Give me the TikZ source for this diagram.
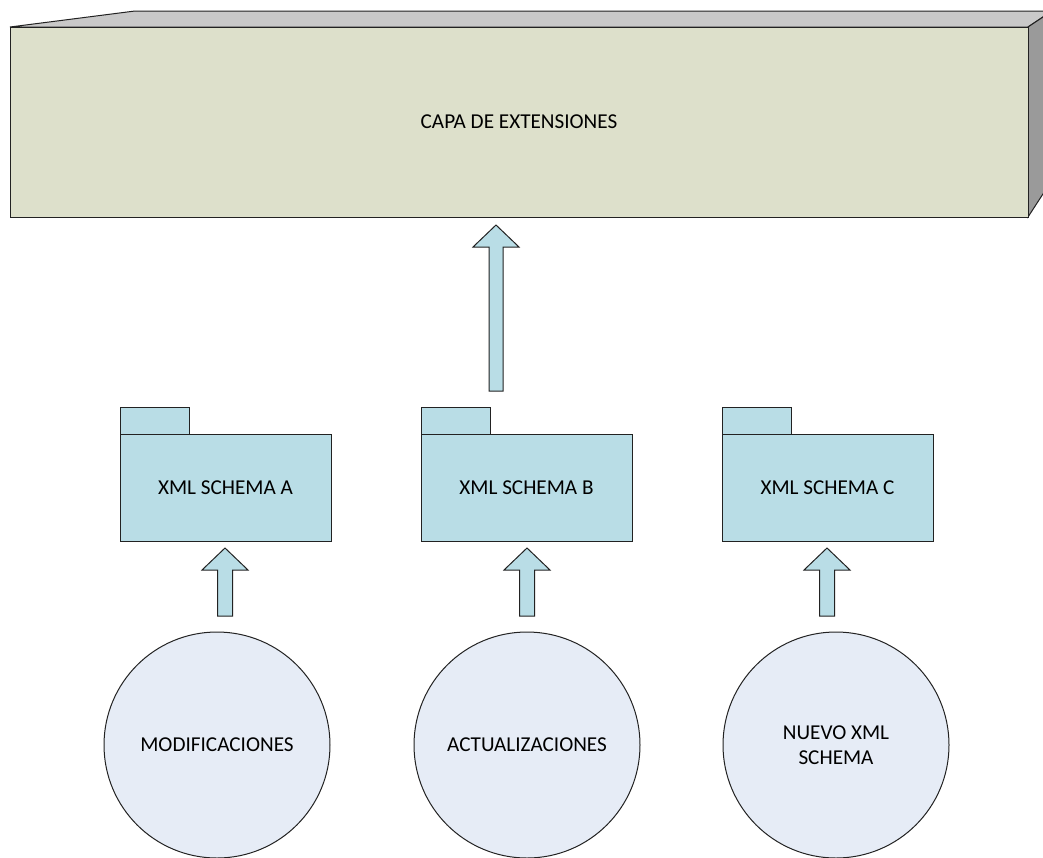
\documentclass[tikz,border=0pt]{standalone}
\usepackage{fontspec}
\setmainfont{Carlito}
\usetikzlibrary{calc}
\definecolor{boxfront}{HTML}{DDE0CB}
\definecolor{boxtop}{HTML}{C9C9C9}
\definecolor{boxside}{HTML}{9A9A9A}
\definecolor{folderfill}{HTML}{B9DDE6}
\definecolor{circfill}{HTML}{E6ECF6}
\definecolor{edge}{HTML}{222222}
\tikzset{
  every node/.style={font=\fontsize{21.2}{25.5}\selectfont},
  face/.style={draw=edge, line width=1pt, line join=miter},
  folderbox/.style={draw=edge, fill=folderfill, line width=1pt, rectangle, inner sep=0pt},
  circnode/.style={draw=edge, fill=circfill, line width=1pt, circle, minimum size=226pt, inner sep=0pt, align=center},
  fatarrow/.style={draw=edge, fill=folderfill, line width=1pt, line join=miter},
}
\begin{document}
\begin{tikzpicture}[x=1pt, y=-1pt]
\useasboundingbox (0,0) rectangle (1043,857);
\clip (0,0) rectangle (1043,857);
% top 3D box
\draw[face, fill=boxtop] (10,27) -- (135,11) -- (1052,11) -- (1028,27) -- cycle;
\draw[face, fill=boxside] (1028,27) -- (1052,11) -- (1052,180) -- (1028,217) -- cycle;
\node[face, fill=boxfront, rectangle, inner sep=0pt, minimum width=1018pt, minimum height=190pt] (ext) at (519,122) {CAPA DE EXTENSIONES};

% folders
\foreach \n/\x/\t in {A/120/XML SCHEMA A, B/421/XML SCHEMA B, C/722/XML SCHEMA C}{
  \draw[folderbox] (\x,407) rectangle (\x+69,434);
  \node[folderbox, minimum width=211pt, minimum height=107pt] (f\n) at (\x+105.5,487.5) {\t};
}

% circles
\node[circnode] (cA) at (217,745) {MODIFICACIONES};
\node[circnode] (cB) at (527,745) {ACTUALIZACIONES};
\node[circnode] (cC) at (836,745) {NUEVO XML\\SCHEMA};

% arrow end points
\coordinate (bigtip) at (496,225);
\coordinate (bigbot) at (496,391);
\coordinate (tA) at (225,548); \coordinate (bA) at (225,616);
\coordinate (tB) at (527,548); \coordinate (bB) at (527,616);
\coordinate (tC) at (827,548); \coordinate (bC) at (827,616);

\draw[fatarrow] (bigtip) -- ++(23,22) -- ++(-16,0) -- ([xshift=7pt]bigbot) -- ([xshift=-7pt]bigbot) -- ([xshift=-7pt,yshift=-22pt]bigtip) -- ++(-16,0) -- cycle;
\foreach \k in {A,B,C}{
  \draw[fatarrow] (t\k) -- ++(23,22) -- ++(-15.5,0) -- ([xshift=7.5pt]b\k) -- ([xshift=-7.5pt]b\k) -- ([xshift=-7.5pt,yshift=-22pt]t\k) -- ++(-15.5,0) -- cycle;
}
\end{tikzpicture}
\end{document}
